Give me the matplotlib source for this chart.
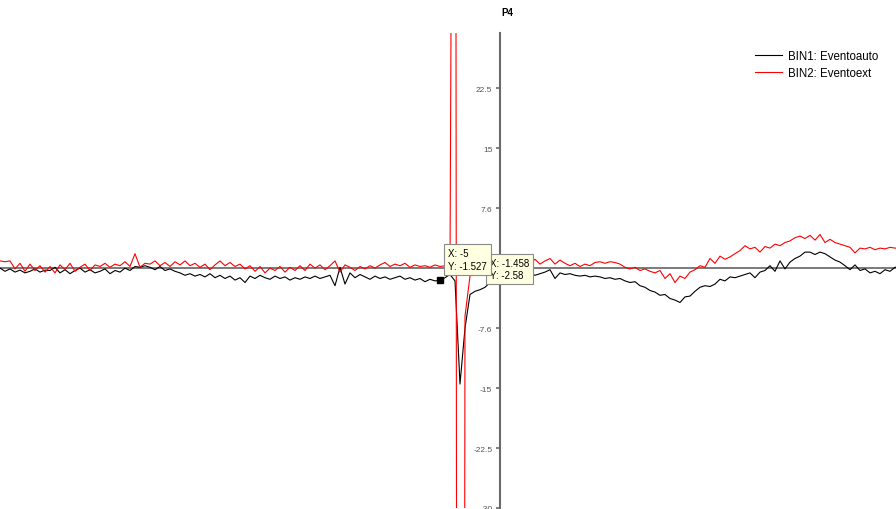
import numpy as np
import matplotlib
matplotlib.use("Agg")
import matplotlib.pyplot as plt

plt.rcParams["font.family"] = ["Liberation Sans", "DejaVu Sans"]

# Sample times (ms) at 2.4 kHz
times = np.arange(-100, 81) / 2.4

# Channel P4, bin 1 (uV)
bin1 = [
    0.0, -0.4, -0.1, -0.5, -0.25, -0.6, -0.4, -0.1, -0.5, -0.25,
    -0.3, 0.1, -0.6, -0.2, -0.7, -0.3, 0.0, -0.5, -0.2, -0.6,
    -0.4, -0.1, -0.7, -0.3, -0.5, 0.0, -0.3, 0.2, 0.1, 0.3,
    0.1, -0.2, 0.2, -0.3, -0.1, -0.4, -0.6, -0.9, -0.7, -1.0,
    -0.8, -1.1, -0.7, -1.2, -0.9, -1.3, -1.0, -1.5, -1.2, -1.8,
    -1.0, -1.3, -0.9, -1.2, -1.4, -1.0, -1.3, -1.1, -1.5, -1.2,
    -1.4, -1.1, -1.3, -1.0, -1.3, -1.1, -0.9, -2.2, 0.1, -2.0,
    -0.6, -1.2, -0.8, -1.1, -1.4, -1.0, -1.3, -1.1, -1.4, -1.2,
    -1.0, -1.4, -1.2, -1.5, -1.3, -1.7, -1.4, -1.6, -1.527, -1.2,
    -0.8, -1.6, -14.5, -7.5, -3.3, -2.9, -2.7, -2.4, -1.8, -1.3,
    -0.9, -0.6, -1.0, -0.7, -0.5, -0.8, -0.6, -0.9, -0.7, -0.5,
    -0.2, -1.3, -0.6, -0.8, -0.7, -0.9, -1.0, -0.9, -1.1, -1.0,
    -1.1, -1.3, -1.2, -1.4, -1.3, -1.6, -1.8, -1.7, -2.2, -2.4,
    -2.8, -3.0, -3.4, -3.3, -3.8, -4.0, -4.3, -3.6, -3.5, -2.9,
    -2.4, -2.2, -2.3, -2.0, -1.4, -1.6, -1.1, -1.2, -1.0, -0.8,
    -0.6, -1.2, -0.5, -0.3, 0.3, -0.4, 0.9, -0.1, 0.75, 1.2,
    1.5, 2.0, 2.0, 1.7, 2.0, 1.8, 1.4, 1.0, 0.75, 0.3,
    -0.2, 0.4, -0.3, -0.1, -0.6, -0.4, -0.7, -0.2, -0.4, 0.1, 0.2,
]

# Channel P4, bin 2 (uV)
bin2 = [
    0.9, 0.8, 0.9, -0.1, 0.6, -0.4, 0.5, -0.3, 0.3, -0.5,
    0.2, -0.6, 0.4, -0.2, 0.6, -0.4, 0.1, 0.5, -0.3, 0.4,
    0.2, 0.6, 0.1, 0.5, 0.3, 0.8, 0.2, 1.8, 0.1, 0.6,
    0.5, 0.9, 0.3, 0.7, 0.2, 0.8, 0.4, 0.9, 0.3, 0.6,
    0.1, 0.5, -0.2, 0.4, 0.9, 0.3, 0.7, 0.2, 0.5, -0.1,
    0.3, -0.4, 0.2, -0.6, 0.0, -0.3, 0.2, -0.5, 0.1, -0.3,
    0.3, -0.3, 0.5, 0.0, 0.4, -0.2, 0.3, 0.9, -0.5, 0.4,
    0.1, -0.3, 0.2, -0.1, 0.3, 0.0, 0.4, 0.7, 0.2, 0.5,
    0.3, 0.6, 0.1, 0.4, 0.2, 0.3, 0.1, 0.4, 0.2, 0.3,
    0.3, 150.0, -450.0, -6.0, -1.0, 0.6, 0.4, 0.9, 0.5, 0.8,
    0.6, 1.0, 0.5, 0.9, 0.4, 0.8, 0.6, 1.1, 0.5, 0.9,
    1.2, 0.5, 1.0, 0.6, 0.3, 0.6, 0.2, 0.5, 0.3, 0.7,
    0.8, 0.6, 0.8, 0.7, 0.5, 0.1, -0.1, 0.1, -0.3, -0.1,
    -0.4, -0.6, -0.3, -1.3, -0.7, -1.8, -1.0, -1.3, -0.5, -0.2,
    0.3, 0.1, 1.2, 0.6, 1.5, 1.1, 1.4, 1.8, 2.2, 2.8,
    2.4, 2.6, 2.0, 2.7, 2.5, 3.0, 2.8, 3.2, 3.4, 3.8,
    4.0, 3.7, 4.1, 3.5, 4.2, 3.2, 3.6, 3.2, 3.0, 2.8,
    2.6, 1.9, 2.5, 2.4, 2.6, 2.3, 2.5, 2.4, 2.6, 2.5, 2.5,
]

ytick_pos = [22.5, 15, 7.5, -7.5, -15, -22.5, -30]
ytick_lab = ["22.5", "15", "7.6", "-7.6", "-15", "-22.5", "-30"]

# data cursors: (time, value)
tips = [(-1.458, -2.58), (-5.0, -1.527)]

fig = plt.figure(figsize=(8.96, 5.10), dpi=100)
ax = fig.add_axes([0, 1 / 510, 1, 475 / 510])
ax.set_xlim(-500 / 12, 396 / 12)
ax.set_ylim(-30, 29.4)

ax.axhline(0, color="#707070", lw=1.3, zorder=1)
ax.plot(times, bin1, color="black", lw=0.8, label="BIN1: Eventoauto", zorder=2)
ax.plot(times, bin2, color="red", lw=0.8, label="BIN2: Eventoext", zorder=3)

for s in ("top", "right", "bottom"):
    ax.spines[s].set_visible(False)
ax.spines["left"].set_position(("data", 0))
ax.spines["left"].set_color("#6a6a6a")
ax.spines["left"].set_linewidth(1.5)
ax.set_xticks([])
ax.set_yticks(ytick_pos)
ax.set_yticklabels(ytick_lab)
ax.tick_params(axis="y", direction="out", length=3, width=1.2, color="#6a6a6a",
               labelsize=6, labelcolor="#555555", pad=2.5)

fig.text(507 / 896, 1 - 13 / 510, "P4", ha="center", va="center",
         fontsize=7, fontweight="bold")

ax.legend(loc="upper left", bbox_to_anchor=(755 / 896, 1 - 51 / 510),
          bbox_transform=fig.transFigure, frameon=False, fontsize=8.3,
          handlelength=2.3, handletextpad=0.55, labelspacing=0.45,
          borderpad=0, borderaxespad=0)

# datatips, the later one on top
offsets = [(7, 31), (8, 32)]
for i, ((tx, ty), off) in enumerate(zip(tips, offsets)):
    ax.annotate(f"X: {tx:g}\nY: {ty:g}", xy=(tx, ty), xytext=off,
                textcoords="offset pixels", ha="left", va="top", fontsize=7,
                linespacing=1.3, zorder=10 + i,
                bbox=dict(boxstyle="square,pad=0.4", fc="#ffffe1",
                          ec="#8a8a8a", lw=0.8))
ax.plot([tips[1][0]], [tips[1][1]], "s", color="black", ms=4.5, zorder=9)

fig.savefig("out.png", dpi=100)
